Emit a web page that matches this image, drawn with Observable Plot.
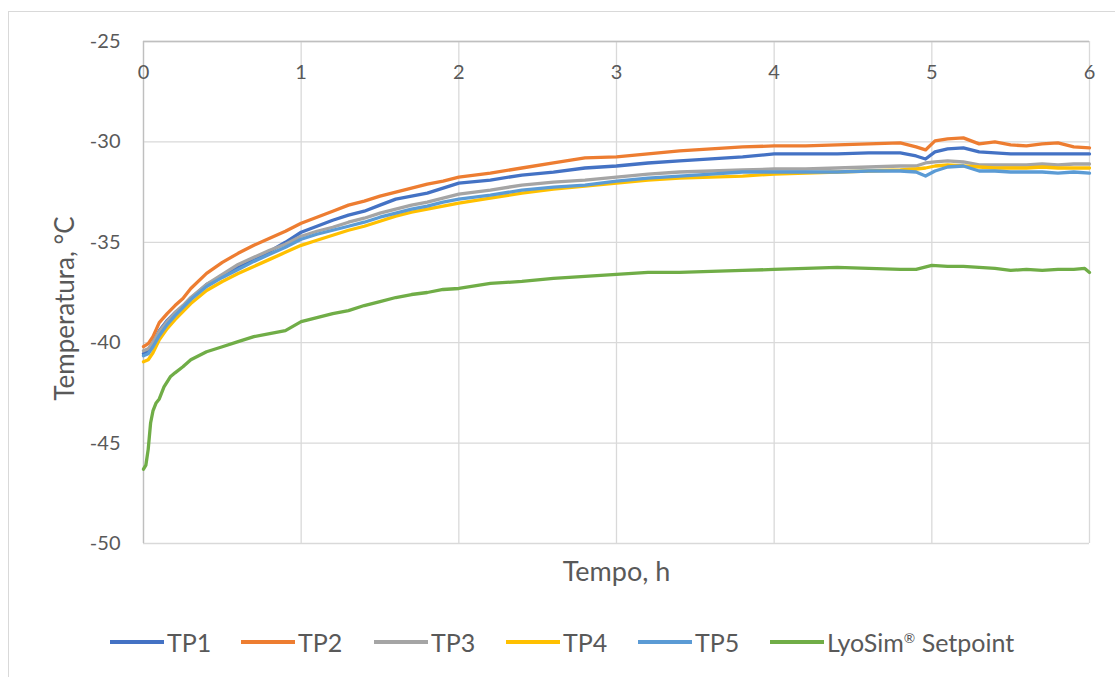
<!DOCTYPE html>
<html>
<head>
<meta charset="utf-8">
<script src="https://cdn.jsdelivr.net/npm/d3@7"></script>
<script src="https://cdn.jsdelivr.net/npm/@observablehq/plot@0.6"></script>
<style>
  body { margin: 0; background: #fff; }
  #frame { position: absolute; left: 8px; top: 11px; width: 1120px; height: 680px; border: 1px solid #d9d9d9; box-sizing: border-box; }
  #chart { position: absolute; left: 0; top: 0; }
  .lg { position: absolute; top: 627px; display: flex; align-items: center; font-family: Lato, sans-serif; font-size: 25px; color: #595959; white-space: nowrap; }
  .lg span.sw { display: inline-block; width: 54px; height: 4px; margin-right: 3px; }
  sup { font-size: 0.55em; }
</style>
</head>
<body>
<div id="frame"></div>
<div id="chart"></div>
<div id="legend"></div>
<script>
const xTicks = [0, 1, 2, 3, 4, 5, 6];
const yTicks = [-25, -30, -35, -40, -45, -50];
const seriesNames = ["TP1", "TP2", "TP3", "TP4", "TP5", "LyoSim® Setpoint"];
const seriesColors = ["#4472C4", "#ED7D31", "#A5A5A5", "#FFC000", "#5B9BD5", "#70AD47"];

const hours = [0, 0.03, 0.06, 0.1, 0.15, 0.2, 0.25, 0.3, 0.4, 0.5, 0.6, 0.7, 0.8, 0.9, 1.0, 1.1, 1.2, 1.3, 1.4, 1.5, 1.6, 1.7, 1.8, 1.9, 2.0, 2.2, 2.4, 2.6, 2.8, 3.0, 3.2, 3.4, 3.6, 3.8, 4.0, 4.2, 4.4, 4.6, 4.8, 4.9, 4.96, 5.02, 5.1, 5.2, 5.3, 5.4, 5.5, 5.6, 5.7, 5.8, 5.9, 6.0];

const tp1 = [-40.55, -40.4, -40.0, -39.4, -38.9, -38.5, -38.2, -37.8, -37.1, -36.7, -36.25, -35.9, -35.45, -35.0, -34.5, -34.2, -33.9, -33.65, -33.45, -33.15, -32.85, -32.7, -32.55, -32.3, -32.05, -31.9, -31.65, -31.5, -31.3, -31.2, -31.05, -30.95, -30.85, -30.75, -30.6, -30.6, -30.6, -30.55, -30.55, -30.7, -30.85, -30.5, -30.35, -30.3, -30.5, -30.55, -30.6, -30.6, -30.6, -30.6, -30.6, -30.6];
const tp2 = [-40.2, -40.05, -39.7, -39.0, -38.55, -38.15, -37.8, -37.3, -36.55, -36.0, -35.55, -35.15, -34.8, -34.45, -34.05, -33.75, -33.45, -33.15, -32.95, -32.7, -32.5, -32.3, -32.1, -31.95, -31.75, -31.55, -31.3, -31.05, -30.8, -30.75, -30.6, -30.45, -30.35, -30.25, -30.2, -30.2, -30.15, -30.1, -30.05, -30.25, -30.4, -29.95, -29.85, -29.8, -30.1, -30.0, -30.15, -30.2, -30.1, -30.05, -30.25, -30.3];
const tp3 = [-40.4, -40.3, -40.0, -39.45, -38.95, -38.5, -38.15, -37.75, -37.1, -36.6, -36.1, -35.75, -35.4, -35.1, -34.7, -34.45, -34.25, -34.0, -33.8, -33.55, -33.35, -33.15, -33.0, -32.8, -32.6, -32.4, -32.15, -32.0, -31.9, -31.75, -31.6, -31.5, -31.45, -31.4, -31.35, -31.35, -31.3, -31.25, -31.2, -31.2, -31.05, -31.0, -30.95, -31.0, -31.15, -31.15, -31.15, -31.15, -31.1, -31.15, -31.1, -31.1];
const tp4 = [-40.95, -40.85, -40.5, -39.85, -39.3, -38.85, -38.45, -38.05, -37.4, -36.95, -36.55, -36.2, -35.85, -35.5, -35.15, -34.9, -34.65, -34.4, -34.2, -33.95, -33.7, -33.5, -33.35, -33.2, -33.05, -32.8, -32.55, -32.35, -32.2, -32.05, -31.9, -31.8, -31.75, -31.7, -31.6, -31.55, -31.5, -31.45, -31.4, -31.35, -31.3, -31.2, -31.15, -31.2, -31.25, -31.3, -31.3, -31.3, -31.25, -31.3, -31.3, -31.3];
const tp5 = [-40.65, -40.55, -40.2, -39.65, -39.1, -38.65, -38.25, -37.85, -37.2, -36.75, -36.35, -35.95, -35.6, -35.25, -34.85, -34.6, -34.4, -34.2, -34.0, -33.75, -33.55, -33.35, -33.2, -33.0, -32.85, -32.65, -32.4, -32.25, -32.15, -31.95, -31.8, -31.7, -31.6, -31.5, -31.5, -31.5, -31.5, -31.45, -31.45, -31.5, -31.7, -31.45, -31.25, -31.2, -31.45, -31.45, -31.5, -31.5, -31.5, -31.55, -31.5, -31.55];

const setpointHours = [0, 0.015, 0.03, 0.045, 0.06, 0.08, 0.1, 0.13, 0.17, 0.2, 0.25, 0.3, 0.4, 0.5, 0.6, 0.7, 0.8, 0.9, 1.0, 1.1, 1.2, 1.3, 1.4, 1.5, 1.6, 1.7, 1.8, 1.9, 2.0, 2.2, 2.4, 2.6, 2.8, 3.0, 3.2, 3.4, 3.6, 3.8, 4.0, 4.2, 4.4, 4.6, 4.8, 4.9, 5.0, 5.1, 5.2, 5.3, 5.4, 5.5, 5.6, 5.7, 5.8, 5.9, 5.97, 6.0];
const setpoint = [-46.3, -46.1, -45.3, -44.0, -43.4, -43.0, -42.8, -42.2, -41.7, -41.5, -41.2, -40.85, -40.45, -40.2, -39.95, -39.7, -39.55, -39.4, -38.95, -38.75, -38.55, -38.4, -38.15, -37.95, -37.75, -37.6, -37.5, -37.35, -37.3, -37.05, -36.95, -36.8, -36.7, -36.6, -36.5, -36.5, -36.45, -36.4, -36.35, -36.3, -36.25, -36.3, -36.35, -36.35, -36.15, -36.2, -36.2, -36.25, -36.3, -36.4, -36.35, -36.4, -36.35, -36.35, -36.3, -36.5];

const tpValues = [tp1, tp2, tp3, tp4, tp5];
const rows = [];
tpValues.forEach((vals, i) => vals.forEach((v, j) => rows.push({series: seriesNames[i], t: hours[j], v})));
setpoint.forEach((v, j) => rows.push({series: seriesNames[5], t: setpointHours[j], v}));

const font = "Lato, 'Open Sans', sans-serif";
const txt = "#595959";

const lineMarks = seriesNames.map((name, i) =>
  Plot.line(rows.filter(r => r.series === name), {x: "t", y: "v", stroke: seriesColors[i], strokeWidth: 3.3, strokeLinejoin: "round"})
);

const chart = Plot.plot({
  width: 1115,
  height: 600,
  marginLeft: 143,
  marginRight: 26,
  marginTop: 41,
  marginBottom: 57,
  x: {domain: [0, 6], axis: null},
  y: {domain: [-50, -25], axis: null},
  style: {fontFamily: font, background: "transparent", overflow: "visible"},
  marks: [
    Plot.gridX(xTicks, {stroke: "#d9d9d9", strokeOpacity: 1, strokeWidth: 1.3}),
    Plot.gridY(yTicks, {stroke: "#d9d9d9", strokeOpacity: 1, strokeWidth: 1.3}),
    Plot.ruleY([-25], {stroke: "#bfbfbf", strokeWidth: 1.3}),
    Plot.ruleX([0], {stroke: "#bfbfbf", strokeWidth: 1.3}),
    Plot.text(yTicks, {y: d => d, frameAnchor: "left", dx: -23, textAnchor: "end", lineAnchor: "middle", text: d => String(d), fontSize: 20, fill: txt, fontFamily: font}),
    Plot.text(xTicks, {x: d => d, frameAnchor: "top", dy: 31, lineAnchor: "middle", text: d => String(d), fontSize: 20, fill: txt, fontFamily: font}),
    Plot.text(["Temperatura, °C"], {frameAnchor: "left", dx: -78, dy: 16, rotate: -90, textAnchor: "middle", lineAnchor: "middle", text: d => d, fontSize: 26, fill: txt, fontFamily: font}),
    Plot.text(["Tempo, h"], {frameAnchor: "bottom", dy: 29, textAnchor: "middle", lineAnchor: "middle", text: d => d, fontSize: 27, fill: txt, fontFamily: font}),
    ...lineMarks
  ]
});
document.getElementById("chart").appendChild(chart);

const legendLefts = [110, 241, 374, 506, 638, 770];
const legend = document.getElementById("legend");
seriesNames.forEach((name, i) => {
  const d = document.createElement("div");
  d.className = "lg";
  d.style.left = legendLefts[i] + "px";
  const label = name.replace("®", "<sup>®</sup>");
  d.innerHTML = `<span class="sw" style="background:${seriesColors[i]}"></span><span>${label}</span>`;
  legend.appendChild(d);
});
</script>
</body>
</html>
